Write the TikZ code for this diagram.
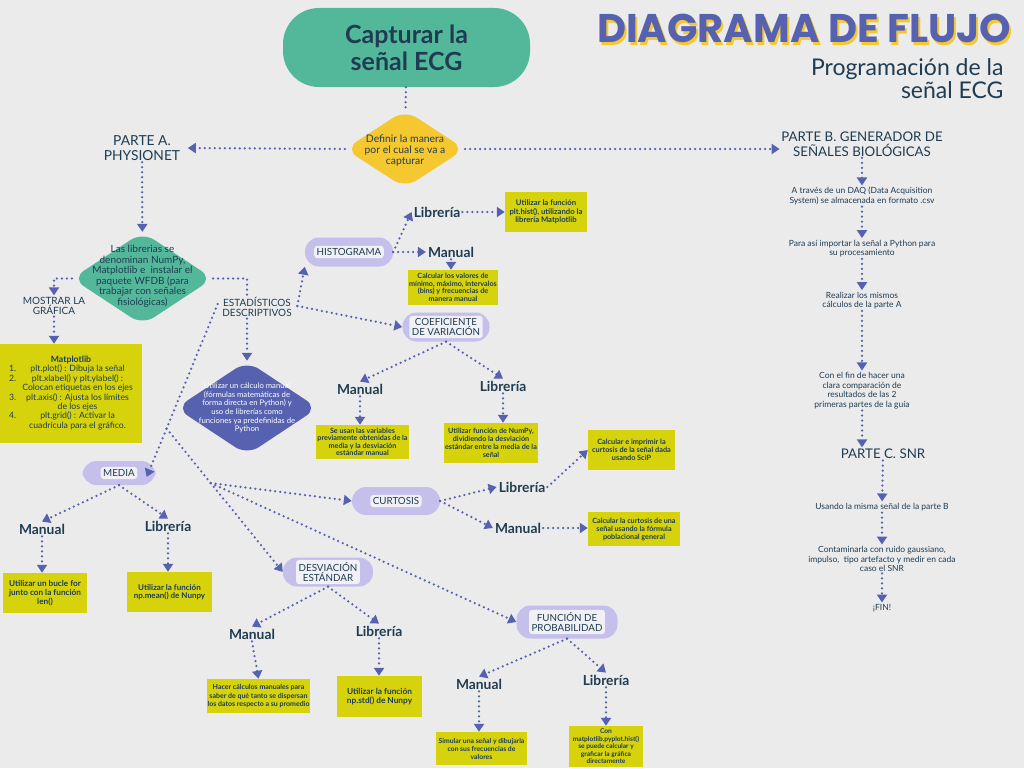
\documentclass[tikz,border=0pt]{standalone}
\usepackage{fontspec}
\setmainfont{Lato}
\newfontfamily\titlefont{Poppins}
\usepackage{xcolor}
\definecolor{ecgbg}{RGB}{235,235,235}
\definecolor{ecggreen}{RGB}{83,184,154}
\definecolor{ecgdark}{RGB}{31,60,82}
\definecolor{ecgyellow}{RGB}{245,200,48}
\definecolor{ecgpurple}{RGB}{86,98,176}
\definecolor{ecglav}{RGB}{197,191,235}
\definecolor{ecgpillin}{RGB}{241,241,245}
\definecolor{ecgolive}{RGB}{214,211,12}
\usepackage{tikz}
\usetikzlibrary{shapes.geometric,arrows.meta,calc}

\tikzset{
  flow/.style={draw=ecgpurple, line width=2.5pt, dash pattern=on 0pt off 5pt, line cap=round},
  flowarr/.style={flow, ->},
  lbl/.style={text=ecgdark, inner sep=2pt, font=\fontsize{13.8}{15}\selectfont\bfseries},
  plaintext/.style={text=ecgdark, align=center, inner sep=1.5pt},
  coltext/.style={plaintext, font=\fontsize{8.5}{9.6}\selectfont},
  ybox/.style={fill=ecgolive, text=ecgdark, align=center, inner sep=1pt},
  pill/.style={fill=ecglav, rounded corners=14pt, minimum height=29pt, inner sep=0pt},
  pilltext/.style={fill=ecgpillin, rounded corners=3pt, text=ecgdark, align=center, inner sep=2.5pt, font=\fontsize{9.8}{10.2}\selectfont},
  decision/.style={diamond, rounded corners=14pt, inner sep=0pt},
  titletext/.style={font=\titlefont\bfseries\fontsize{40}{44}\selectfont}
}

\begin{document}
\begin{tikzpicture}[x=1pt,y=-1pt,>={Triangle[width=10pt,length=8pt]}]
\useasboundingbox (0,0) rectangle (1024,768);
\fill[ecgbg] (0,0) rectangle (1024,768);

\node[titletext] (title) at (804,30) {\rlap{\hspace{2pt}\raisebox{-3pt}{\textcolor{ecgyellow}{DIAGRAMA DE FLUJO}}}\textcolor{ecgpurple}{DIAGRAMA DE FLUJO}};
\node[anchor=east, align=right, text=ecgdark, font=\fontsize{23}{23}\selectfont] (subtitle) at (1007,79) {Programación de la\\señal ECG};

\node[fill=ecggreen, rounded corners=36pt, minimum width=247pt, minimum height=79pt, text=ecgdark, align=center, font=\fontsize{25}{27}\selectfont\bfseries] (start) at (406.5,47.5) {Capturar la\\señal ECG};

\node[decision, fill=ecgyellow, minimum width=120pt, minimum height=78pt] (define) at (405,149) {};
\node[plaintext, font=\fontsize{10.4}{11.3}\selectfont] (define-t) at (405,150.5) {Definir la manera\\por el cual se va a\\capturar};

\node[plaintext, font=\fontsize{13.8}{15}\selectfont] (partA) at (142,148) {PARTE A.\\PHYSIONET};
\node[plaintext, font=\fontsize{13.3}{14.5}\selectfont] (partB) at (862,144) {PARTE B. GENERADOR DE\\SEÑALES BIOLÓGICAS};

\node[decision, fill=ecggreen, minimum width=141pt, minimum height=93pt] (libs) at (142.5,278.5) {};
\node[plaintext, font=\fontsize{10}{10.5}\selectfont] (libs-t) at (142.5,276) {Las librerias se\\denominan NumPy,\\Matplotlib e\ \ instalar el\\paquete WFDB (para\\trabajar con señales\\fisiológicas)};

\node[plaintext, font=\fontsize{10}{10.5}\selectfont] (most) at (54,306) {MOSTRAR LA\\GRÁFICA};
\node[plaintext, font=\fontsize{10}{10.5}\selectfont] (est) at (257,307) {ESTADÍSTICOS\\DESCRIPTIVOS};

\node[ybox, font=\fontsize{8.7}{9.3}\selectfont, minimum width=142pt, minimum height=99pt] (mpl) at (71,393.5) {\textbf{Matplotlib}\\
\begin{tabular}{@{}l@{\hspace{6pt}}c@{}}
1. & plt.plot() : Dibuja la señal\\
2. & plt.xlabel() y plt.ylabel() :\\
   & Colocan etiquetas en los ejes\\
3. & plt.axis() : Ajusta los límites\\
   & de los ejes\\
4. & plt.grid() : Activar la\\
   & cuadrícula para el gráfico.
\end{tabular}};

\node[decision, fill=ecgpurple, minimum width=142pt, minimum height=94pt] (calc) at (247,408) {};
\node[plaintext, text=white, font=\fontsize{7.7}{8.6}\selectfont] (calc-t) at (247,408) {Utilizar un cálculo manual\\(fórmulas matemáticas de\\forma directa en Python) y\\uso de librerías como\\funciones ya predefinidas de\\Python};

\foreach \nm/\x/\y/\w/\h/\txt in {%
histo/349/252/88/29/HISTOGRAMA,%
coef/446/327/87/29/{COEFICIENTE\\DE VARIACIÓN},%
media/119/473/73/24/MEDIA,%
curt/396/501/88/28/CURTOSIS,%
desv/328/572/90/29/{DESVIACIÓN\\ESTÁNDAR},%
func/567/622/101/33/{FUNCIÓN DE\\PROBABILIDAD}%
}{
  \node[pill, minimum width=\w pt, minimum height=\h pt] (\nm) at (\x,\y) {};
  \node[pilltext] (\nm-t) at (\nm) {\txt};
}

\foreach \nm/\x/\y/\txt in {%
hLib/437/212/Librería, hMan/451/252/Manual,%
cMan/360/389/Manual, cLib/503/386/Librería,%
mMan/42/529/Manual, mLib/168/526/Librería,%
kLib/522/487/Librería, kMan/518/528/Manual,%
dMan/252/634/Manual, dLib/379/631/Librería,%
fMan/479/684/Manual, fLib/606/680/Librería%
}{
  \node[lbl] (\nm) at (\x,\y) {\txt};
}

\foreach \nm/\x/\y/\w/\h/\fs/\bs/\txt in {%
histLib/546/212/82/40/7.7/8.4/{Utilizar la función\\plt.hist(), utilizando la\\librería Matplotlib},%
histMan/453/287.5/90/35/7.2/7.6/{Calcular los valores de\\mínimo, máximo, intervalos\\(bins) y frecuencias de\\manera manual},%
cvMan/362.5/442/91/34/7.2/7.5/{Se usan las variables\\previamente obtenidas de la\\media y la desviación\\estándar manual},%
cvLib/491/443/94/40/7.2/8/{Utilizar función de NumPy,\\dividiendo la desviación\\estándar entre la media de la\\señal},%
medMan/45/593/84/40/8.2/9/{Utilizar un bucle for\\junto con la función\\len()},%
medLib/169.5/592/85/40/8/8.5/{Utilizar la función\\np.mean() de Nunpy},%
curLib/631.5/450/87/40/7.3/8.3/{Calcular e imprimir la\\curtosis de la señal dada\\usando SciP},%
curMan/634/529/92/34/7.2/8/{Calcular la curtosis de una\\señal usando la fórmula\\poblacional general},%
desMan/258.5/696/101/34/7/8.5/{Hacer cálculos manuales para\\saber de qué tanto se dispersan\\los datos respecto a su promedio},%
desLib/379.5/696.5/85/41/8.3/9/{Utilizar la función\\np.std() de Nunpy},%
funMan/481.5/748.5/91/33/6.8/8/{Simular una señal y dibujarla\\con sus frecuencias de\\valores},%
funLib/606/746.5/74/41/6.6/7.5/{Con\\matplotlib.pyplot.hist()\\se puede calcular y\\graficar la gráfica\\directamente}%
}{
  \node[ybox, minimum width=\w pt, minimum height=\h pt, font=\fontsize{\fs}{\bs}\selectfont\bfseries] (\nm) at (\x,\y) {\txt};
}

\foreach \nm/\x/\y/\txt in {%
b1/862/196/{A través de un DAQ (Data Acquisition\\System) se almacenada en formato .csv},%
b2/862/248.5/{Para así importar la señal a Python para\\su procesamiento},%
b3/862/300.5/{Realizar los mismos\\cálculos de la parte A},%
b4/862/390.5/{Con el fin de hacer una\\clara comparación de\\resultados de las 2\\primeras partes de la guía},%
c1/882/507/{Usando la misma señal de la parte B},%
c2/882/559/{Contaminarla con ruido gaussiano,\\impulso,\ \ tipo artefacto y medir en cada\\caso el SNR},%
c3/882/608/{¡FIN!}%
}{
  \node[coltext] (\nm) at (\x,\y) {\txt};
}
\node[plaintext, font=\fontsize{13.3}{14.5}\selectfont] (partC) at (883,454) {PARTE C. SNR};

\draw[flow] (start) -- (define);
\draw[flowarr] (define.west) -- ([xshift=6pt]partA.east);
\draw[flowarr] (define.east) -- (define.east -| partB.west);
\draw[flowarr] (partA) -- (libs);
\draw[flowarr] (libs.west) -| (most.north);
\draw[flow] (libs.east) -| (est.north -| calc.north);
\draw[flowarr] (est.south -| calc.north) -- (calc.north);
\draw[flowarr] (most.south) -- (most.south |- mpl.north);

\coordinate (estR) at ([xshift=4pt,yshift=1pt]est.east);
\coordinate (estL) at ([xshift=-3pt,yshift=3pt]est.west);
\coordinate (mediaR) at ([xshift=-9pt,yshift=-4pt]media.east);
\coordinate (brDes) at ($(estL)!0.72!(mediaR)$);
\coordinate (brCur) at ($(brDes)!0.38!(desv.west)$);
\draw[flowarr] (estR) -- (histo.south west);
\draw[flowarr] (estR) -- (coef.west);
\draw[flowarr] (estL) -- (mediaR);
\draw[flowarr] (brDes) -- (desv.west);
\draw[flowarr] (brCur) -- (curt.west);
\draw[flowarr] (brCur) -- (func.west);

\draw[flowarr] (histo.east) -- (hLib.west);
\draw[flowarr] (histo.east) -- (hMan.west);
\draw[flowarr] (hLib.east) -- (histLib.west);
\draw[flowarr] (hMan.south) -- (hMan.south |- histMan.north);

\draw[flowarr] (coef.south) -- (cMan.north);
\draw[flowarr] (coef.south) -- (cLib.north);
\draw[flowarr] (cMan.south) -- (cMan.south |- cvMan.north);
\draw[flowarr] (cLib.south) -- (cLib.south |- cvLib.north);

\draw[flowarr] (media.south) -- (mMan.north);
\draw[flowarr] (media.south) -- (mLib.north);
\draw[flowarr] (mMan.south) -- (mMan.south |- medMan.north);
\draw[flowarr] (mLib.south) -- (mLib.south |- medLib.north);

\draw[flowarr] (curt.east) -- (kLib.west);
\draw[flowarr] (curt.east) -- (kMan.west);
\draw[flowarr] (kLib.east) -- (curLib.west);
\draw[flowarr] (kMan.east) -- (kMan.east -| curMan.west);

\draw[flowarr] (desv.south) -- (dMan.north);
\draw[flowarr] (desv.south) -- (dLib.north);
\draw[flowarr] (dMan.south) -- (desMan.north);
\draw[flowarr] (dLib.south) -- (dLib.south |- desLib.north);

\draw[flowarr] (func.south) -- (fMan.north);
\draw[flowarr] (func.south) -- (fLib.north);
\draw[flowarr] (fMan.south) -- (fMan.south |- funMan.north);
\draw[flowarr] (fLib.south) -- (fLib.south |- funLib.north);

\foreach \a/\b in {partB/b1,b1/b2,b2/b3,b3/b4,partC/c1,c1/c2,c2/c3}
  \draw[flowarr] (\a) -- (\b);
\draw[flowarr] (b4.south) -- (b4.south |- partC.north);
\end{tikzpicture}
\end{document}
